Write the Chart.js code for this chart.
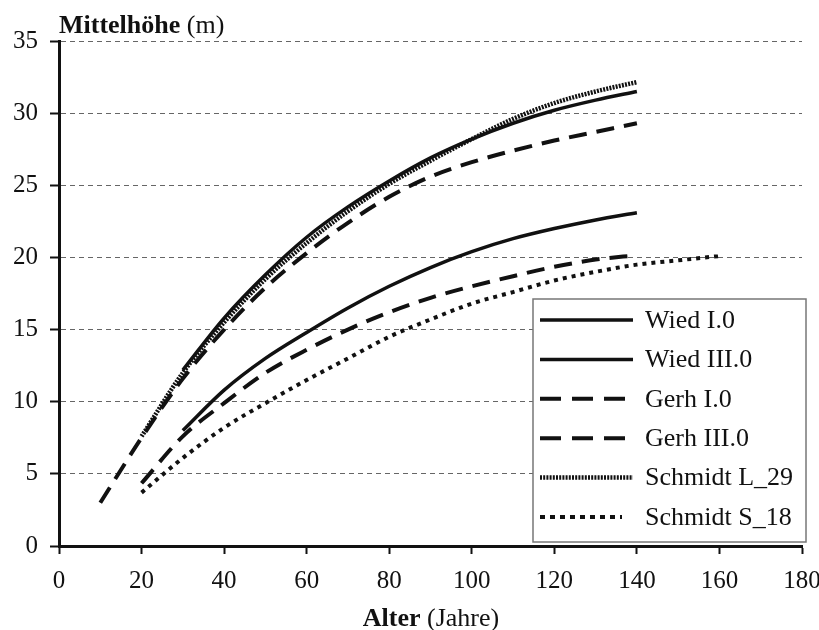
<!DOCTYPE html>
<html>
<head>
<meta charset="utf-8">
<script src="https://cdn.jsdelivr.net/npm/chart.js@4.4.1/dist/chart.umd.min.js"></script>
<style>
  html, body { margin:0; padding:0; background:#fff; }
  #wrap { width:819px; height:630px; }
</style>
</head>
<body>
<div id="wrap"><canvas id="chart" width="819" height="630"></canvas></div>
<script>
/* ---- data ---- */
const xTicks = [0, 20, 40, 60, 80, 100, 120, 140, 160, 180];
const yTicks = [0, 5, 10, 15, 20, 25, 30, 35];
const seriesNames = ['Wied I.0', 'Wied III.0', 'Gerh I.0', 'Gerh III.0', 'Schmidt L_29', 'Schmidt S_18'];

const agesWiedI   = [30, 40, 50, 60, 70, 80, 90, 100, 110, 120, 130, 140];
const wiedI       = [12.2, 15.8, 18.8, 21.4, 23.5, 25.3, 26.9, 28.2, 29.3, 30.2, 30.9, 31.5];

const agesWiedIII = [30, 40, 50, 60, 70, 80, 90, 100, 110, 120, 130, 140];
const wiedIII     = [8.0, 10.8, 13.0, 14.8, 16.5, 18.0, 19.3, 20.4, 21.3, 22.0, 22.6, 23.1];

const agesGerhI   = [10, 20, 30, 40, 50, 60, 70, 80, 90, 100, 110, 120, 130, 140];
const gerhI       = [3.0, 7.5, 11.6, 15.0, 17.9, 20.3, 22.4, 24.2, 25.6, 26.6, 27.4, 28.1, 28.7, 29.3];

const agesGerhIII = [20, 30, 40, 50, 60, 70, 80, 90, 100, 110, 120, 130, 140];
const gerhIII     = [4.35, 7.6, 9.9, 12.0, 13.6, 15.0, 16.2, 17.2, 18.0, 18.7, 19.35, 19.85, 20.15];

const agesSchL29  = [20, 30, 40, 50, 60, 70, 80, 90, 100, 110, 120, 130, 140];
const schmidtL29  = [7.6, 12.0, 15.5, 18.5, 21.0, 23.2, 25.1, 26.7, 28.2, 29.6, 30.7, 31.5, 32.15];

const agesSchS18  = [20, 30, 40, 50, 60, 70, 80, 90, 100, 110, 120, 130, 140, 150, 160];
const schmidtS18  = [3.7, 6.1, 8.2, 9.9, 11.5, 13.0, 14.5, 15.7, 16.8, 17.6, 18.4, 19.0, 19.5, 19.8, 20.1];

/* ---- styles ---- */
const FONT = "'Liberation Serif', 'Times New Roman', serif";
const pts = (ages, vals) => ages.map((a, i) => ({ x: a, y: vals[i] }));

const lineStyles = [
  { width: 3.5, dash: [],       keyDash: [],       keyLen: 93 },
  { width: 3.5, dash: [],       keyDash: [],       keyLen: 93 },
  { width: 4,   dash: [18, 10], keyDash: [21, 11], keyLen: 85 },
  { width: 4,   dash: [18, 10], keyDash: [21, 11], keyLen: 85 },
  { width: 4.5, dash: [2, 1.2], keyDash: [2, 1.2], keyLen: 93 },
  { width: 4,   dash: [4, 5],   keyDash: [5, 5],   keyLen: 82 }
];

const seriesData = [
  pts(agesWiedI, wiedI), pts(agesWiedIII, wiedIII),
  pts(agesGerhI, gerhI), pts(agesGerhIII, gerhIII),
  pts(agesSchL29, schmidtL29), pts(agesSchS18, schmidtS18)
];

const datasets = seriesNames.map((name, i) => ({
  label: name,
  data: seriesData[i],
  borderColor: '#111',
  borderWidth: lineStyles[i].width,
  borderDash: lineStyles[i].dash,
  borderCapStyle: 'butt',
  pointRadius: 0,
  fill: false,
  cubicInterpolationMode: 'monotone'
}));

/* axis titles + boxed key, drawn after the chart */
const extras = {
  id: 'extras',
  afterDraw(chart){
    const ctx = chart.ctx, area = chart.chartArea;
    ctx.save();
    ctx.fillStyle = '#111';
    ctx.textBaseline = 'alphabetic';
    // y title
    ctx.textAlign = 'left';
    ctx.font = 'bold 26px ' + FONT;
    ctx.fillText('Mittelhöhe', 59, 33);
    let w = ctx.measureText('Mittelhöhe ').width;
    ctx.font = '26px ' + FONT;
    ctx.fillText('(m)', 59 + w, 33);
    // x title
    ctx.font = 'bold 26px ' + FONT;
    const wa = ctx.measureText('Alter ').width;
    ctx.font = '26px ' + FONT;
    const wb = ctx.measureText('(Jahre)').width;
    const x0 = 431 - (wa + wb) / 2;
    ctx.font = 'bold 26px ' + FONT;
    ctx.fillText('Alter', x0, 626);
    ctx.font = '26px ' + FONT;
    ctx.fillText('(Jahre)', x0 + wa, 626);

    // key box
    const bx = 533, by = 299, bw = 273, bh = 243;
    ctx.fillStyle = '#fff';
    ctx.fillRect(bx, by, bw, bh);
    ctx.strokeStyle = '#777';
    ctx.lineWidth = 1.5;
    ctx.strokeRect(bx, by, bw, bh);
    ctx.font = '26px ' + FONT;
    ctx.textBaseline = 'middle';
    chart.data.datasets.forEach((ds, i) => {
      const y = 320 + i * 39.4;
      const st = lineStyles[i];
      ctx.strokeStyle = '#111';
      ctx.lineWidth = st.width;
      ctx.setLineDash(st.keyDash);
      ctx.beginPath();
      ctx.moveTo(540, y);
      ctx.lineTo(540 + st.keyLen, y);
      ctx.stroke();
      ctx.setLineDash([]);
      ctx.fillStyle = '#111';
      ctx.fillText(ds.label, 645, y + 1);
    });
    ctx.restore();
  }
};

new Chart(document.getElementById('chart').getContext('2d'), {
  type: 'line',
  data: { datasets },
  options: {
    responsive: false,
    animation: false,
    devicePixelRatio: 1,
    layout: { padding: { top: 41, right: 17, left: 0, bottom: 0 } },
    plugins: { legend: { display: false }, tooltip: { enabled: false } },
    scales: {
      x: {
        type: 'linear', min: 0, max: 180,
        afterBuildTicks: s => { s.ticks = xTicks.map(v => ({ value: v })); },
        afterFit: s => { s.height = 84; s.paddingLeft = 0; s.paddingRight = 0; },
        ticks: { color: '#111', font: { family: FONT, size: 25 }, padding: 12, maxRotation: 0 },
        grid: { drawOnChartArea: false, drawTicks: true, tickLength: 8, tickColor: '#111', tickWidth: 2 },
        border: { color: '#111', width: 3 }
      },
      y: {
        type: 'linear', min: 0, max: 35,
        afterBuildTicks: s => { s.ticks = yTicks.map(v => ({ value: v })); },
        afterFit: s => { s.width = 59; s.paddingTop = 0; s.paddingBottom = 0; },
        ticks: { color: '#111', font: { family: FONT, size: 25 }, padding: 12 },
        grid: { color: '#666', lineWidth: 1, tickLength: 9, tickColor: '#111', tickWidth: 2, tickBorderDash: [] },
        border: { color: '#111', width: 3, dash: [5, 4] }
      }
    }
  },
  plugins: [extras]
});
</script>
</body>
</html>
